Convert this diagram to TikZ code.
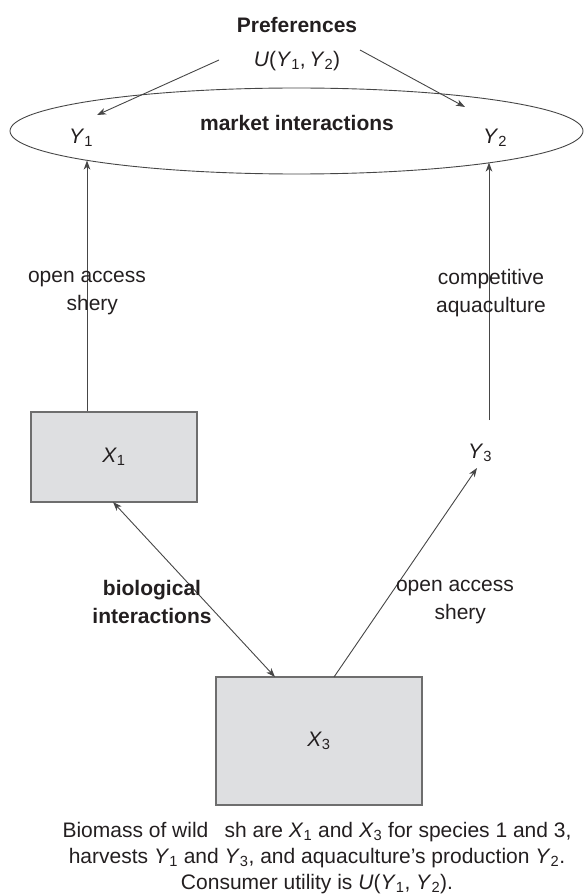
\documentclass[tikz,border=0pt]{standalone}
\usepackage{fontspec}
\setmainfont{Liberation Sans}
\usetikzlibrary{shapes.geometric,arrows.meta}
\definecolor{ink}{RGB}{35,31,32}
\definecolor{ln}{RGB}{70,70,70}
\definecolor{boxfill}{RGB}{222,223,225}
\definecolor{boxline}{RGB}{110,110,110}
\newcommand\varsub[2]{\textit{#1}\textsubscript{#2}}
\begin{document}
\begin{tikzpicture}[x=1pt,y=-1pt,
  txt/.style={font=\fontsize{21}{28}\selectfont, text=ink, inner sep=0pt, align=center},
  boldtxt/.style={font=\fontsize{21}{28}\selectfont\bfseries, text=ink, inner sep=0pt, align=center},
  tip/.tip={Stealth[length=9pt,width=6.5pt,inset=2.5pt]},
  arr/.style={draw=ln, line width=0.9pt, -tip},
  dbl/.style={draw=ln, line width=0.9pt, tip-tip},
  fishbox/.style={draw=boxline, fill=boxfill, line width=1.3pt, inner sep=0pt,
    font=\fontsize{21}{28}\selectfont, text=ink}]
\useasboundingbox (0,0) rectangle (584,896);

% top
\node[boldtxt] (pref) at (297,25) {Preferences};
\node[txt] (util) at (297,61) {\textit{U}(\varsub{Y}{1},\,\varsub{Y}{2})};
\coordinate (ul) at (219,60);
\coordinate (ur) at (360,50);

% market ellipse
\node[draw=ln, line width=0.9pt, ellipse, minimum width=573pt, minimum height=86pt, inner sep=0pt] (mkt) at (296.5,131) {};
\node[boldtxt] (mlabel) at (297,123) {market interactions};
\node[txt] (y1) at (81,138) {\varsub{Y}{1}};
\node[txt] (y2) at (495,138) {\varsub{Y}{2}};
\coordinate (y1tip) at (97,115);
\coordinate (y2tip) at (465,107);
\draw[arr] (ul) -- (y1tip);
\draw[arr] (ur) -- (y2tip);

% boxes
\node[fishbox, minimum width=166pt, minimum height=90pt] (x1) at (114,457) {\varsub{X}{1}};
\node[fishbox, minimum width=206pt, minimum height=128pt] (x3) at (319,741) {\varsub{X}{3}};
\node[txt] (y3) at (480,453) {\varsub{Y}{3}};

% vertical connectors
\coordinate (e1) at (87,160.5);
\coordinate (e2) at (489,162.5);
\coordinate (y3top) at (489,420);
\draw[arr] (x1.north -| e1) -- (e1);
\draw[arr] (y3top) -- (e2);

\node[txt] (lab1) at (87,293) {open access\\\phantom{fi}shery};
\node[txt] (lab2) at (491,293) {competitive\\aquaculture};

% lower connectors
\coordinate (x1b) at (113,502);
\coordinate (x3a) at (275,677);
\coordinate (x3b) at (334,677);
\coordinate (y3tip) at (477,468);
\draw[dbl] (x3a) -- (x1b);
\draw[arr] (x3b) -- (y3tip);

\node[boldtxt] (lab3) at (152,602) {biological\\interactions};
\node[txt] (lab4) at (455,602) {open access\\\phantom{fi}shery};

% caption
\node[font=\fontsize{21}{26}\selectfont, text=ink, inner sep=0pt, align=center] (cap) at (317,858)
 {Biomass of wild \phantom{fi}sh are \varsub{X}{1} and \varsub{X}{3} for species 1 and 3,\\
  harvests \varsub{Y}{1} and \varsub{Y}{3}, and aquaculture’s production \varsub{Y}{2}.\\
  Consumer utility is \textit{U}(\varsub{Y}{1}, \varsub{Y}{2}).};
\end{tikzpicture}
\end{document}
